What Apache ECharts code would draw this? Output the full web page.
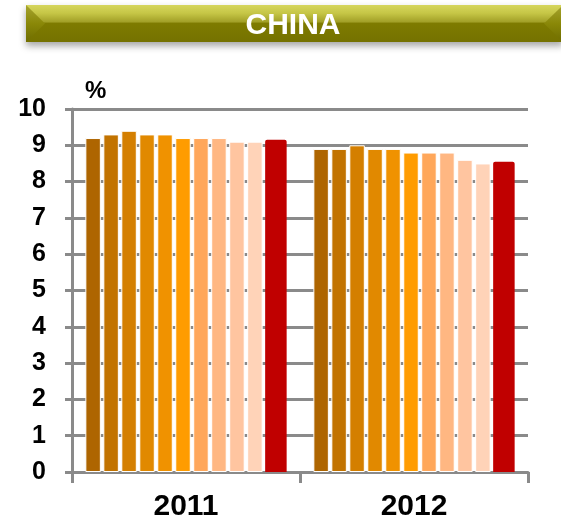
<!DOCTYPE html>
<html>
<head>
<meta charset="utf-8">
<script src="https://cdn.jsdelivr.net/npm/echarts@6/dist/echarts.min.js"></script>
<style>html,body{margin:0;padding:0;background:#fff;}#c{width:561px;height:525px;}</style>
</head>
<body>
<div id="c"></div>
<script>
var categories = ['2011', '2012'];
var seriesNames = ['F1', 'F2', 'F3', 'F4', 'F5', 'F6', 'F7', 'F8', 'F9', 'F10', 'Latest'];
var s1 = [9.2, 8.9];
var s2 = [9.3, 8.9];
var s3 = [9.4, 9.0];
var s4 = [9.3, 8.9];
var s5 = [9.3, 8.9];
var s6 = [9.2, 8.8];
var s7 = [9.2, 8.8];
var s8 = [9.2, 8.8];
var s9 = [9.1, 8.6];
var s10 = [9.1, 8.5];
var s11 = [9.15, 8.55];
var seriesValues = [s1, s2, s3, s4, s5, s6, s7, s8, s9, s10, s11];
var colors = ['#AE6500', '#C27300', '#D47F00', '#E18900', '#F09200', '#FF9C00', '#FFA75A', '#FFB782', '#FFC5A0', '#FFD3B8', '#C00000'];
var yTicks = [0, 1, 2, 3, 4, 5, 6, 7, 8, 9, 10];
var titleText = 'CHINA';
var unitText = '%';

var FONT = "'Liberation Sans', Arial, sans-serif";
var GRAY = '#8a8a8a';

var series = seriesValues.map(function (vals, i) {
  var last = i === seriesValues.length - 1;
  return {
    name: seriesNames[i],
    type: 'bar',
    data: vals,
    barWidth: last ? 21.5 : 15.5,
    barGap: '16%',
    itemStyle: {
      color: colors[i],
      borderColor: last ? colors[i] : '#ffffff',
      borderWidth: last ? 0 : 1,
      borderRadius: last ? [2, 2, 0, 0] : 0
    },
    emphasis: { disabled: true }
  };
});

var chart = echarts.init(document.getElementById('c'), null, { renderer: 'canvas' });
chart.setOption({
  animation: false,
  backgroundColor: '#ffffff',
  grid: { left: 72, right: 33, top: 109, bottom: 53, containLabel: false },
  xAxis: {
    type: 'category',
    data: categories,
    boundaryGap: true,
    axisLine: { show: true, lineStyle: { color: GRAY, width: 3 } },
    axisTick: { show: true, length: 11, interval: 0, lineStyle: { color: GRAY, width: 3 } },
    axisLabel: { fontFamily: FONT, fontWeight: 'bold', fontSize: 30, color: '#000', margin: 20 }
  },
  yAxis: {
    type: 'value',
    min: yTicks[0],
    max: yTicks[yTicks.length - 1],
    interval: 1,
    name: unitText,
    nameLocation: 'end',
    nameGap: 6,
    nameTextStyle: { fontFamily: FONT, fontWeight: 'bold', fontSize: 24, color: '#000', align: 'left', padding: [0, 0, 0, 13] },
    axisLine: { show: true, lineStyle: { color: GRAY, width: 3 } },
    axisTick: { show: true, length: 7, lineStyle: { color: GRAY, width: 3 } },
    splitLine: { show: true, lineStyle: { color: GRAY, width: 3 } },
    axisLabel: { fontFamily: FONT, fontWeight: 'bold', fontSize: 25, color: '#000', margin: 26 }
  },
  graphic: [
    {
      type: 'rect',
      shape: { x: 26, y: 5, width: 537, height: 37 },
      style: {
        fill: new echarts.graphic.LinearGradient(0, 0, 0, 1, [
          { offset: 0, color: '#d6d65e' },
          { offset: 0.22, color: '#c6c646' },
          { offset: 0.45, color: '#a3a128' },
          { offset: 0.5, color: '#7e7b00' },
          { offset: 1, color: '#757200' }
        ]),
        shadowBlur: 7,
        shadowOffsetY: 4,
        shadowColor: 'rgba(0,0,0,0.35)'
      },
      z: 10
    },
    {
      type: 'polygon',
      shape: { points: [[26, 5], [45, 23.5], [26, 42]] },
      style: {
        fill: new echarts.graphic.LinearGradient(0, 0, 0, 1, [
          { offset: 0, color: '#a6a430' },
          { offset: 0.5, color: '#8a8808' },
          { offset: 1, color: '#6e6c00' }
        ])
      },
      z: 11
    },
    {
      type: 'polygon',
      shape: { points: [[563, 5], [544, 23.5], [563, 42]] },
      style: {
        fill: new echarts.graphic.LinearGradient(0, 0, 0, 1, [
          { offset: 0, color: '#a6a430' },
          { offset: 0.5, color: '#8a8808' },
          { offset: 1, color: '#6e6c00' }
        ])
      },
      z: 11
    },
    {
      type: 'text',
      x: 293,
      y: 26,
      style: {
        text: titleText,
        fill: '#ffffff',
        font: "bold 30px " + FONT,
        align: 'center',
        verticalAlign: 'middle',
        shadowBlur: 2,
        shadowColor: 'rgba(0,0,0,0.3)'
      },
      z: 12
    }
  ],
  series: series
});
</script>
</body>
</html>
